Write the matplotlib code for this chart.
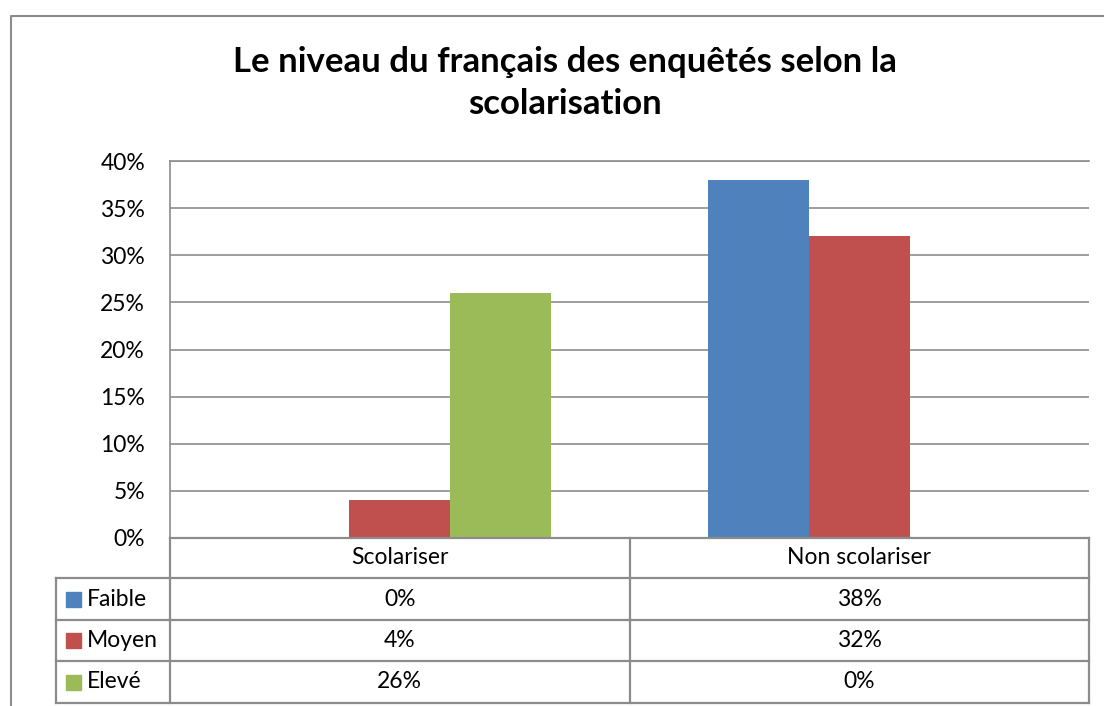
import numpy as np
import matplotlib.pyplot as plt
from matplotlib.ticker import PercentFormatter

# data
categories = ["Scolariser", "Non scolariser"]
series = ["Faible", "Moyen", "Elevé"]
faible = [0, 38]
moyen = [4, 32]
eleve = [26, 0]
colors = ["#4F81BD", "#C0504D", "#9BBB59"]
title = "Le niveau du français des enquêtés selon la\nscolarisation"

plt.rcParams['font.family'] = ['Lato', 'DejaVu Sans']
W, H = 1104, 706
fig = plt.figure(figsize=(W / 100, H / 100), dpi=100)
fig.patch.set_facecolor("white")

# plot area in pixels
px_left, px_right, px_top, px_bot = 170, 1089, 161, 538
ax = fig.add_axes([px_left / W, 1 - px_bot / H, (px_right - px_left) / W, (px_bot - px_top) / H])

values = [faible, moyen, eleve]
x = np.arange(len(categories))
w = 0.22
for i, (vals, col) in enumerate(zip(values, colors)):
    ax.bar(x + (i - 1) * w, vals, width=w, color=col, zorder=3)

ax.set_xlim(-0.5, len(categories) - 0.5)
ax.set_ylim(0, 40)
ax.set_yticks(np.arange(0, 41, 5))
ax.yaxis.set_major_formatter(PercentFormatter(decimals=0))
ax.set_xticks([])
ax.tick_params(axis='y', length=0, labelsize=16.5, pad=18)
ax.grid(axis='y', color='#8c8c8c', lw=1.2, zorder=0)
for s in ['right', 'bottom']:
    ax.spines[s].set_visible(False)
ax.spines['top'].set_color('#8c8c8c')
ax.spines['left'].set_color('#8c8c8c')
ax.spines['left'].set_linewidth(1.2)
ax.spines['top'].set_linewidth(1.2)

# overlay in pixel coords for frame, title and data table
ov = fig.add_axes([0, 0, 1, 1])
ov.set_xlim(0, W)
ov.set_ylim(H, 0)
ov.axis('off')
ov.patch.set_visible(False)

gray = '#8c8c8c'
ov.plot([11, 11, W], [H, 16, 16], color=gray, lw=1.5)

ov.text(565, 83, title, ha='center', va='center', fontsize=25, fontweight='bold',
        linespacing=1.4)

# table
leg_left = 56
col_edges = [px_left, (px_left + px_right) / 2, px_right]
row_edges = [538, 578, 620, 661, 703]
lw = 1.6
ov.plot([px_left, px_right], [row_edges[0]] * 2, color=gray, lw=lw)
for y in row_edges[1:]:
    ov.plot([leg_left, px_right], [y, y], color=gray, lw=lw)
ov.plot([leg_left, leg_left], [row_edges[1], row_edges[-1]], color=gray, lw=lw)
for xe in col_edges:
    ov.plot([xe, xe], [row_edges[0], row_edges[-1]], color=gray, lw=lw)

for j, cat in enumerate(categories):
    cx = (col_edges[j] + col_edges[j + 1]) / 2
    ov.text(cx, (row_edges[0] + row_edges[1]) / 2, cat, ha='center', va='center', fontsize=16.5)

for i, (name, vals, col) in enumerate(zip(series, values, colors)):
    cy = (row_edges[i + 1] + row_edges[i + 2]) / 2
    ov.add_patch(plt.Rectangle((66, cy - 7.5), 15, 15, color=col))
    ov.text(87, cy, name, ha='left', va='center', fontsize=16.5)
    for j, v in enumerate(vals):
        cx = (col_edges[j] + col_edges[j + 1]) / 2
        ov.text(cx, cy, f"{v}%", ha='center', va='center', fontsize=16.5)

fig.savefig("out.png", dpi=100)
